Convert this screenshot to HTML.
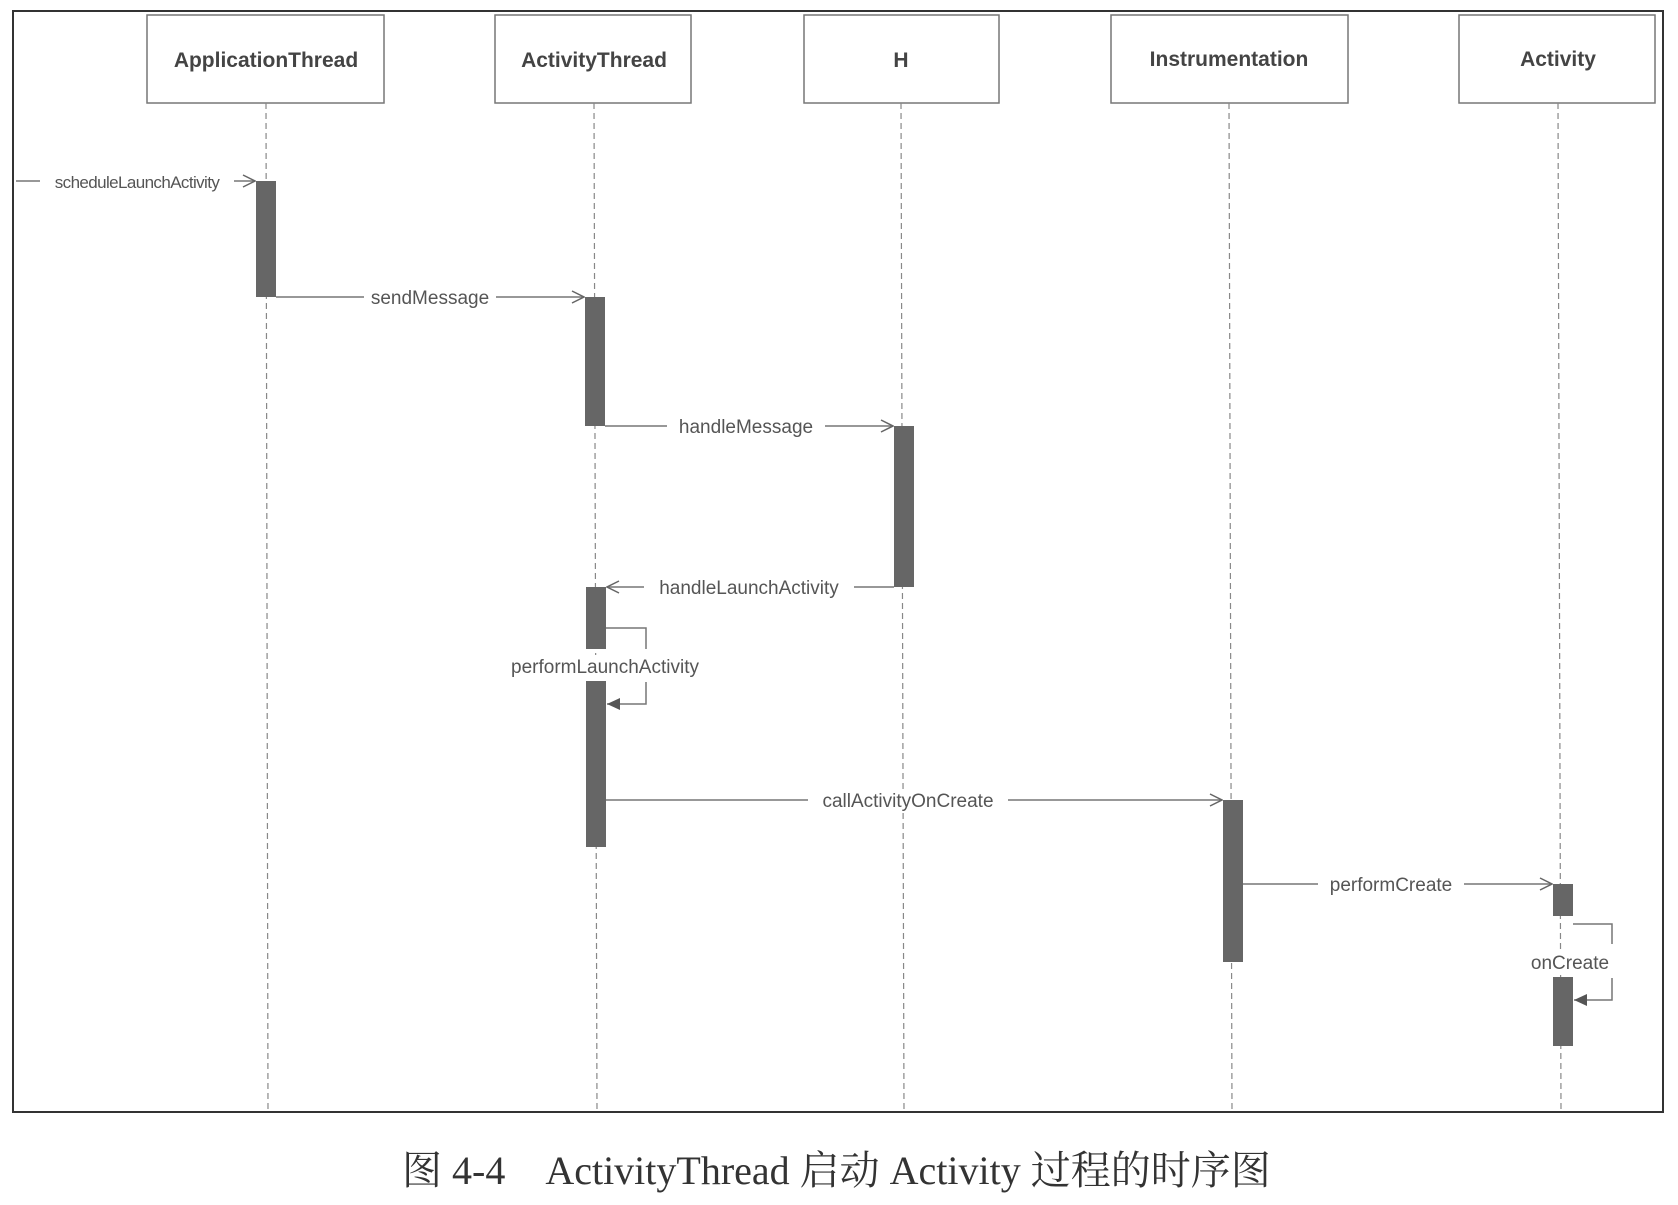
<!DOCTYPE html>
<html><head><meta charset="utf-8"><style>
body{margin:0;background:#fff}
</style></head><body>
<svg width="1678" height="1200" viewBox="0 0 1678 1200" xmlns="http://www.w3.org/2000/svg" font-family="Liberation Sans, DejaVu Sans, sans-serif">
<defs>
<marker id="open" markerWidth="14" markerHeight="14" refX="13" refY="7" orient="auto" markerUnits="userSpaceOnUse">
<path d="M1,1 L13,7 L1,13" fill="none" stroke="#666" stroke-width="1.5"/></marker>
<marker id="fill" markerWidth="14" markerHeight="14" refX="13" refY="7" orient="auto" markerUnits="userSpaceOnUse">
<path d="M0,1 L13,7 L0,13 Z" fill="#555"/></marker>
</defs>
<rect x="13" y="11" width="1650" height="1101" fill="none" stroke="#333" stroke-width="2"/>
<g fill="#fff" stroke="#777" stroke-width="1.5">
<rect x="147" y="15" width="237" height="88"/>
<rect x="495" y="15" width="196" height="88"/>
<rect x="804" y="15" width="195" height="88"/>
<rect x="1111" y="15" width="237" height="88"/>
<rect x="1459" y="15" width="196" height="88"/>
</g>
<g font-weight="bold" font-size="21" fill="#444" text-anchor="middle">
<text x="266" y="67">ApplicationThread</text>
<text x="594" y="67">ActivityThread</text>
<text x="901" y="67">H</text>
<text x="1229" y="66">Instrumentation</text>
<text x="1558" y="66">Activity</text>
</g>
<g stroke="#888" stroke-width="1.2" stroke-dasharray="6,4">
<line x1="266" y1="103" x2="268" y2="1112"/>
<line x1="594" y1="103" x2="597" y2="1112"/>
<line x1="901" y1="103" x2="904" y2="1112"/>
<line x1="1229" y1="103" x2="1232" y2="1112"/>
<line x1="1558" y1="103" x2="1561" y2="1112"/>
</g>
<g fill="#666">
<rect x="256" y="181" width="20" height="116"/>
<rect x="585" y="297" width="20" height="129"/>
<rect x="894" y="426" width="20" height="161"/>
<rect x="586" y="587" width="20" height="62"/>
<rect x="586" y="681" width="20" height="166"/>
<rect x="1223" y="800" width="20" height="162"/>
<rect x="1553" y="884" width="20" height="32"/>
<rect x="1553" y="977" width="20" height="69"/>
</g>
<g stroke="#777" stroke-width="1.5" fill="none">
<line x1="16" y1="181" x2="255" y2="181" marker-end="url(#open)"/>
<line x1="276" y1="297" x2="584" y2="297" marker-end="url(#open)"/>
<line x1="605" y1="426" x2="893" y2="426" marker-end="url(#open)"/>
<line x1="894" y1="587" x2="607" y2="587" marker-end="url(#open)"/>
<line x1="606" y1="800" x2="1222" y2="800" marker-end="url(#open)"/>
<line x1="1243" y1="884" x2="1552" y2="884" marker-end="url(#open)"/>
<polyline points="606,628 646,628 646,649"/>
<polyline points="646,682 646,704 607,704" marker-end="url(#fill)"/>
<polyline points="1573,924 1612,924 1612,944"/>
<polyline points="1612,978 1612,1000 1574,1000" marker-end="url(#fill)"/>
</g>
<g font-size="19" fill="#555" text-anchor="middle">
<rect x="40" y="172" width="194" height="20" fill="#fff"/>
<text x="137" y="188" font-size="17" letter-spacing="-0.6">scheduleLaunchActivity</text>
<rect x="364" y="287" width="132" height="22" fill="#fff"/>
<text x="430" y="304">sendMessage</text>
<rect x="667" y="416" width="158" height="22" fill="#fff"/>
<text x="746" y="433">handleMessage</text>
<rect x="644" y="577" width="210" height="22" fill="#fff"/>
<text x="749" y="594">handleLaunchActivity</text>
<rect x="492" y="655" width="226" height="24" fill="#fff"/>
<text x="605" y="673">performLaunchActivity</text>
<rect x="808" y="790" width="200" height="22" fill="#fff"/>
<text x="908" y="807">callActivityOnCreate</text>
<rect x="1318" y="874" width="146" height="22" fill="#fff"/>
<text x="1391" y="891">performCreate</text>
<rect x="1525" y="951" width="90" height="24" fill="#fff"/>
<text x="1570" y="969">onCreate</text>
</g>
<text x="402" y="1184" style="font-family:'Liberation Serif','Noto Serif CJK SC',serif" font-size="40" fill="#333" xml:space="preserve">图 4-4    ActivityThread 启动 Activity 过程的时序图</text>
</svg>
</body></html>
